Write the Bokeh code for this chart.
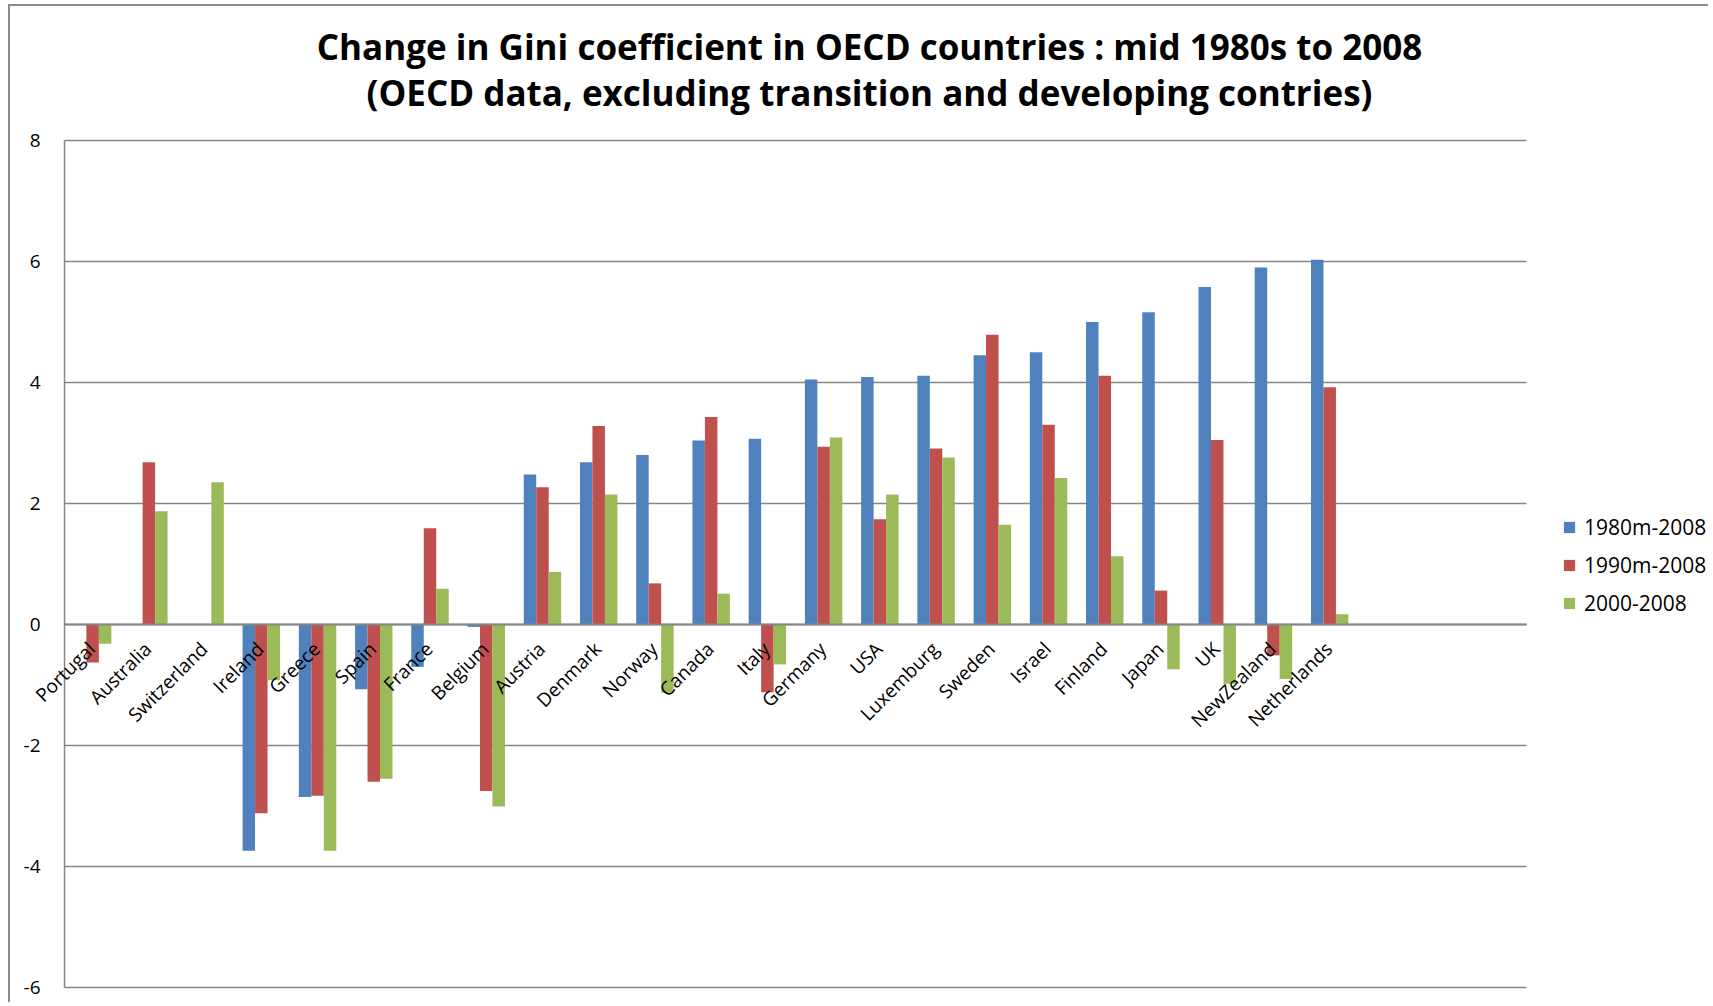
import math
from bokeh.plotting import figure
from bokeh.models import ColumnDataSource, Range1d, Legend, LegendItem, Label
from bokeh.transform import dodge
from bokeh.core.properties import value
from bokeh.embed import file_html
from bokeh.resources import INLINE

NaN = float("nan")

countries = ["Portugal", "Australia", "Switzerland", "Ireland", "Greece", "Spain", "France",
             "Belgium", "Austria", "Denmark", "Norway", "Canada", "Italy", "Germany", "USA",
             "Luxemburg", "Sweden", "Israel", "Finland", "Japan", "UK", "NewZealand", "Netherlands"]

s1980 = [NaN, NaN, NaN, -3.74, -2.85, -1.07, -0.70, -0.04, 2.48, 2.68, 2.80, 3.04, 3.07,
         4.05, 4.09, 4.11, 4.45, 4.50, 5.00, 5.16, 5.58, 5.90, 6.03]
s1990 = [-0.63, 2.68, NaN, -3.12, -2.83, -2.60, 1.59, -2.75, 2.27, 3.28, 0.68, 3.43, -1.12,
         2.94, 1.74, 2.91, 4.79, 3.30, 4.11, 0.56, 3.05, -0.51, 3.92]
s2000 = [-0.32, 1.87, 2.35, -0.92, -3.74, -2.55, 0.59, -3.01, 0.87, 2.15, -1.13, 0.51, -0.66,
         3.09, 2.15, 2.76, 1.65, 2.42, 1.13, -0.74, -0.98, -0.90, 0.17]

series_names = ["1980m-2008", "1990m-2008", "2000-2008"]
series_colors = ["#4F81BD", "#C0504D", "#9BBB59"]
y_ticks = [-6, -4, -2, 0, 2, 4, 6, 8]
y_tick_labels = ["-6", "-4", "-2", "0", "2", "4", "6", "8"]
n_slots = 26  # category axis in the original has 3 empty slots after the last country

title1 = "Change in Gini coefficient in OECD countries : mid 1980s to 2008"
title2 = "(OECD data, excluding transition and developing contries)"

FONT = "Open Sans"
GRID = "#868686"

# canvas geometry (pixels); the plotting frame fills the whole canvas
W, H = 1700, 998
AXIS_X = 54          # value axis position from the left edge
Y_TOP_PX = 134       # where the top tick (8) sits from the top edge
Y_BOT_PX = 981       # where the bottom tick (-6) sits from the top edge
slot_px = 1462 / n_slots
y_lo, y_hi = y_ticks[0], y_ticks[-1]
unit_px = (Y_BOT_PX - Y_TOP_PX) / (y_hi - y_lo)
x_start = -0.5 - AXIS_X / slot_px
x_end = x_start + W / slot_px
y_end = y_hi + Y_TOP_PX / unit_px
y_start = y_lo - (H - Y_BOT_PX) / unit_px

idx = list(range(len(countries)))
src = ColumnDataSource(dict(x=idx, name=countries, a=s1980, b=s1990, c=s2000,
                            zero=[0] * len(countries)))
tick_src = ColumnDataSource(dict(y=y_ticks, label=y_tick_labels,
                                 x=[-0.5] * len(y_ticks), x1=[n_slots - 0.5] * len(y_ticks)))

p = figure(width=W, height=H, x_range=Range1d(x_start, x_end), y_range=Range1d(y_start, y_end),
           output_backend="svg", toolbar_location=None, x_axis_type=None, y_axis_type=None,
           min_border_left=0, min_border_right=0, min_border_top=0, min_border_bottom=0)
p.styles = {"border-left": "2px solid #8a8a8a", "border-top": "2px solid #8a8a8a",
            "margin-left": "8px", "margin-top": "4px"}
p.outline_line_color = None
p.background_fill_color = "white"
p.border_fill_color = "white"
p.xgrid.visible = False
p.ygrid.visible = False

# two-line title, centred over the chart area
title_cx = 859
for txt, ty in [(title1, H - 40), (title2, H - 86)]:
    p.add_layout(Label(x=title_cx, y=ty, x_units="screen", y_units="screen", text=txt,
                       text_align="center", text_baseline="middle", text_font=FONT,
                       text_font_size="35px", text_font_style="bold", text_color="black"))

# horizontal gridlines over the category slots only
p.segment(x0="x", x1="x1", y0="y", y1="y", source=tick_src, line_color=GRID, line_width=1.3)

# value axis line and tick labels
p.segment(x0=[-0.5], x1=[-0.5], y0=[y_lo], y1=[y_hi], line_color=GRID, line_width=1.5)
p.text(x="x", y="y", text="label", source=tick_src, text_align="right", text_baseline="middle",
       text_font=value(FONT), text_font_size="19px", text_color="black", x_offset=-24)

bw = 0.222
renderers = []
for col, off, color in zip(["a", "b", "c"], [-bw, 0, bw], series_colors):
    r = p.vbar(x=dodge("x", off, range=p.x_range), top=col, bottom=0, width=bw, source=src,
               fill_color=color, line_color=None)
    renderers.append(r)

# category axis line at zero
p.segment(x0=[-0.5], x1=[n_slots - 0.5], y0=[0], y1=[0], line_color=GRID, line_width=2.2)

# rotated category labels hanging from the zero line
p.text(x="x", y="zero", text="name", source=src, angle=math.pi / 4, text_align="right",
       text_baseline="middle", text_font=value(FONT), text_font_size="19px",
       text_color="black", x_offset=-1, y_offset=21)

legend = Legend(items=[LegendItem(label=n, renderers=[r]) for n, r in zip(series_names, renderers)],
                location=(1552, 387), border_line_color=None, background_fill_alpha=0,
                glyph_width=14, glyph_height=14, label_text_font=FONT,
                label_text_font_size="21px", label_text_color="black",
                label_height=20, spacing=10, padding=8, margin=0, label_standoff=8)
p.add_layout(legend)

open("out.html", "w").write(file_html(p, INLINE))
